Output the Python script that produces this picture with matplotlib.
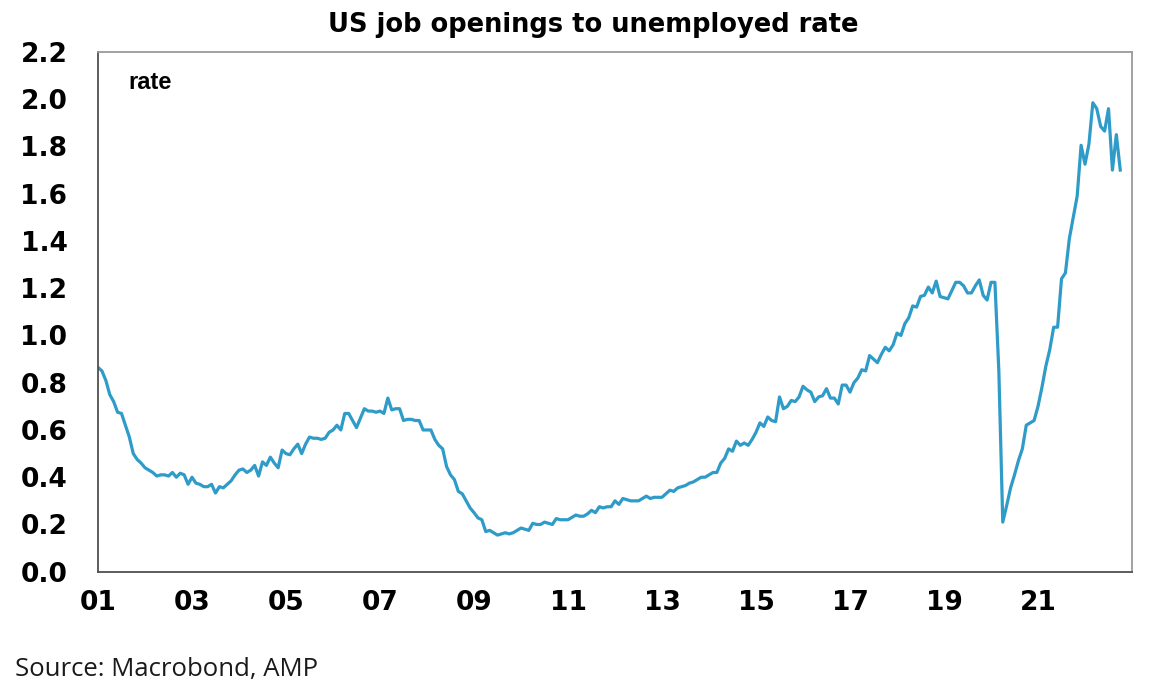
import matplotlib
matplotlib.use("Agg")
import matplotlib.pyplot as plt
import numpy as np

# monthly ratio of job openings to unemployed, Jan 2001 - Oct 2022
r2001 = [0.865, 0.85, 0.81, 0.75, 0.72, 0.675, 0.67, 0.62, 0.57, 0.50, 0.475, 0.46]
r2002 = [0.44, 0.43, 0.42, 0.405, 0.41, 0.41, 0.405, 0.42, 0.40, 0.417, 0.41, 0.37]
r2003 = [0.40, 0.375, 0.37, 0.36, 0.36, 0.37, 0.333, 0.36, 0.355, 0.37, 0.385, 0.41]
r2004 = [0.43, 0.435, 0.42, 0.43, 0.45, 0.405, 0.465, 0.45, 0.485, 0.46, 0.44, 0.515]
r2005 = [0.50, 0.495, 0.52, 0.54, 0.50, 0.54, 0.57, 0.565, 0.565, 0.56, 0.565, 0.59]
r2006 = [0.60, 0.62, 0.60, 0.67, 0.67, 0.64, 0.61, 0.65, 0.69, 0.68, 0.68, 0.675]
r2007 = [0.68, 0.67, 0.735, 0.685, 0.69, 0.69, 0.64, 0.645, 0.645, 0.64, 0.64, 0.60]
r2008 = [0.60, 0.60, 0.56, 0.535, 0.52, 0.445, 0.41, 0.39, 0.34, 0.33, 0.30, 0.27]
r2009 = [0.25, 0.228, 0.22, 0.17, 0.175, 0.165, 0.155, 0.16, 0.165, 0.16, 0.165, 0.175]
r2010 = [0.185, 0.18, 0.175, 0.205, 0.20, 0.20, 0.21, 0.205, 0.20, 0.225, 0.22, 0.22]
r2011 = [0.22, 0.23, 0.24, 0.235, 0.235, 0.245, 0.26, 0.25, 0.275, 0.27, 0.275, 0.275]
r2012 = [0.30, 0.285, 0.31, 0.305, 0.30, 0.30, 0.30, 0.31, 0.32, 0.31, 0.315, 0.315]
r2013 = [0.315, 0.33, 0.345, 0.34, 0.355, 0.36, 0.365, 0.375, 0.38, 0.39, 0.40, 0.40]
r2014 = [0.41, 0.42, 0.42, 0.46, 0.48, 0.52, 0.51, 0.553, 0.535, 0.545, 0.535, 0.56]
r2015 = [0.59, 0.63, 0.615, 0.655, 0.64, 0.635, 0.74, 0.69, 0.70, 0.725, 0.72, 0.74]
r2016 = [0.785, 0.77, 0.76, 0.72, 0.74, 0.745, 0.775, 0.735, 0.735, 0.71, 0.79, 0.79]
r2017 = [0.76, 0.80, 0.82, 0.855, 0.85, 0.915, 0.90, 0.885, 0.92, 0.95, 0.935, 0.96]
r2018 = [1.01, 1.00, 1.05, 1.075, 1.125, 1.12, 1.165, 1.17, 1.205, 1.18, 1.23, 1.165]
r2019 = [1.16, 1.155, 1.19, 1.225, 1.225, 1.21, 1.18, 1.18, 1.21, 1.235, 1.17, 1.15]
r2020 = [1.225, 1.225, 0.85, 0.21, 0.28, 0.355, 0.41, 0.47, 0.52, 0.62, 0.63, 0.64]
r2021 = [0.70, 0.78, 0.87, 0.94, 1.035, 1.035, 1.24, 1.265, 1.41, 1.50, 1.59, 1.805]
r2022 = [1.725, 1.81, 1.985, 1.96, 1.885, 1.865, 1.96, 1.70, 1.85, 1.70]

rate = np.array(r2001 + r2002 + r2003 + r2004 + r2005 + r2006 + r2007 + r2008 +
                r2009 + r2010 + r2011 + r2012 + r2013 + r2014 + r2015 + r2016 +
                r2017 + r2018 + r2019 + r2020 + r2021 + r2022)
t = 2001 + np.arange(len(rate)) / 12.0

yticks = [0.0, 0.2, 0.4, 0.6, 0.8, 1.0, 1.2, 1.4, 1.6, 1.8, 2.0, 2.2]
xticks = list(range(2001, 2023, 2))
xlabels = ["%02d" % (y % 100) for y in xticks]

fig = plt.figure(figsize=(11.57, 6.93), dpi=100)
ax = fig.add_axes([0.0847, 0.175, 0.8937, 0.750])

ax.plot(t, rate, color="#2f9bc8", lw=2.3, solid_joinstyle="round")

ax.set_xlim(2001, 2023)
ax.set_ylim(0, 2.2)
ax.set_yticks(yticks)
ax.set_yticklabels(["%.1f" % v for v in yticks])
ax.set_xticks(xticks)
ax.set_xticklabels(xlabels)
ax.tick_params(length=0, labelsize=19)
ax.tick_params(axis="y", pad=22)
ax.tick_params(axis="x", pad=13)
for lab in ax.get_xticklabels() + ax.get_yticklabels():
    lab.set_fontweight("bold")
    lab.set_family("DejaVu Sans")

for s in ["left", "bottom"]:
    ax.spines[s].set_color("#505050")
for s in ["top", "right"]:
    ax.spines[s].set_color("#9a9a9a")
for s in ax.spines.values():
    s.set_linewidth(1.3)

ax.text(0.029, 0.929, "rate", transform=ax.transAxes, fontsize=17,
        fontweight="bold", family="Liberation Sans", va="baseline")

fig.text(0.5125, 0.954, "US job openings to unemployed rate", ha="center", va="baseline",
         fontsize=18.5, fontweight="bold", family="DejaVu Sans")
fig.text(0.013, 0.0245, "Source: Macrobond, AMP", ha="left", va="baseline",
         fontsize=18.5, family="Open Sans", color="#1a1a1a")

fig.savefig("out.png", dpi=100)
